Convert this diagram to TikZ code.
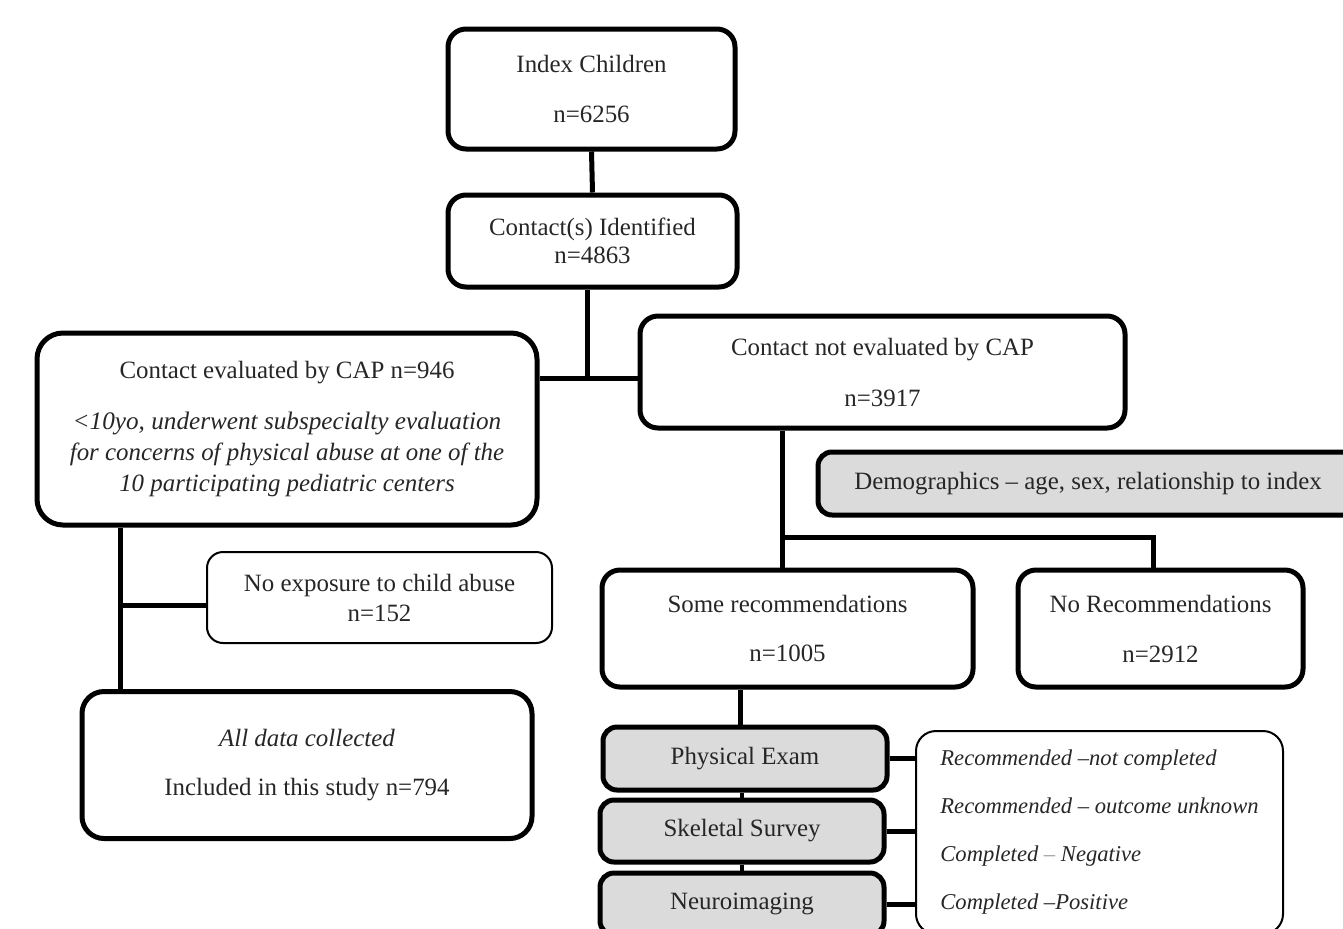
\documentclass[tikz,border=0pt]{standalone}
\usepackage{fontspec}
\setmainfont{Liberation Serif}
\usetikzlibrary{calc}

\begin{document}
\begin{tikzpicture}
				[x=0.5pt,y=-0.5pt,
				%Styles
				every node/.style={font=\fontsize{12.45}{14}\selectfont,align=center,inner sep=0pt,text=textcolor},
				bigbox/.style={draw=black,line width=2.5pt,rounded corners=9pt},
				thinbox/.style={draw=black,line width=1pt,rounded corners=8pt},
				greybox/.style={bigbox,fill=boxgrey,rounded corners=7pt},
				link/.style={line width=2.5pt}
				]
				
				%Colors
				\colorlet{boxgrey}{black!14}
				\colorlet{textcolor}{black!85}
				
				\useasboundingbox (0,0) rectangle (1343,928);
				\clip (0,0) rectangle (1343,928);
				
				%The graphic
				\node[bigbox,minimum width=143.5pt,minimum height=60pt] (idx) at (591.5,89)
					{Index Children\\[11pt] n=6256};
				\node[bigbox,minimum width=144.5pt,minimum height=46pt] (ident) at (592.5,241)
					{Contact(s) Identified\\ n=4863};
				\node[bigbox,minimum width=250pt,minimum height=96pt,rounded corners=13pt] (cap) at (287,429)
					{Contact evaluated by CAP n=946\\[11.5pt]
					\fontsize{12.6}{14}\selectfont\textit{<10yo, underwent subspecialty evaluation}\\[1.5pt]
					\textit{for concerns of physical abuse at one of the}\\[1.5pt]
					\textit{10 participating pediatric centers}};
				\node[bigbox,minimum width=242.5pt,minimum height=56pt] (noteval) at (882.5,372)
					{Contact not evaluated by CAP\\[11.5pt] n=3917};
				\node[greybox,minimum width=270pt,minimum height=31.5pt] (demo) at (1088,483.5)
					{Demographics -- age, sex, relationship to index};
				\node[bigbox,minimum width=185.5pt,minimum height=58.5pt] (somerec) at (787.5,628.5)
					{Some recommendations\\[10.5pt] n=1005};
				\node[bigbox,minimum width=142.5pt,minimum height=58.5pt] (norec) at (1160.5,628.5)
					{No Recommendations\\[11pt] n=2912};
				\node[thinbox,minimum width=172.5pt,minimum height=45.5pt] (noexp) at (379.5,597.5)
					{No exposure to child abuse\\[1pt] n=152};
				\node[bigbox,minimum width=225pt,minimum height=73.5pt,rounded corners=11pt] (alldata) at (307,765)
					{\textit{All data collected}\\[10.5pt] Included in this study n=794};
				\node[greybox,minimum width=142pt,minimum height=31.5pt] (phys) at (745,758.5) {Physical Exam};
				\node[greybox,minimum width=142pt,minimum height=31pt] (skel) at (742,831) {Skeletal Survey};
				\node[greybox,minimum width=142pt,minimum height=31pt] (neuro) at (742,904) {Neuroimaging};
				\node[thinbox,minimum width=183.5pt,minimum height=101.5pt,align=left,rounded corners=10pt,
					font=\fontsize{11.3}{14}\selectfont] (outcomes) at (1099.5,832.5)
					{\textit{Recommended --not completed}\\[10pt]
					\textit{Recommended -- outcome unknown}\\[10pt]
					\textit{Completed {\color{black!40}--} Negative}\\[10pt]
					\textit{Completed --Positive}};
				
				%Connectors
				\coordinate (j1) at (587,378);
				\coordinate (j2) at (782,537);
				\coordinate (j3) at (1153,537);
				\coordinate (j4) at (120,605);
				
				\draw[link] (idx.south) -- (ident.north);
				\draw[link] (ident.south -| j1) -- (j1);
				\draw[link] (cap.east |- j1) -- (noteval.west |- j1);
				\draw[link] (noteval.south -| j2) -- (j2) -- (j3) -- (j3 |- norec.north);
				\draw[link] (j2) -- (j2 |- somerec.north);
				\draw[link] (cap.south -| j4) -- (j4 |- alldata.north);
				\draw[link] (j4) -- (j4 -| noexp.west);
				\draw[link] (somerec.south -| 740,0) -- (phys.north -| 740,0);
				\draw[link,line width=2pt] (phys.south -| 742,0) -- (skel.north);
				\draw[link,line width=2pt] (skel.south) -- (neuro.north);
				\draw[link] (phys.east) -- (phys.east -| outcomes.west);
				\draw[link] (skel.east) -- (skel.east -| outcomes.west);
				\draw[link] (neuro.east) -- (neuro.east -| outcomes.west);
			\end{tikzpicture}
\end{document}
